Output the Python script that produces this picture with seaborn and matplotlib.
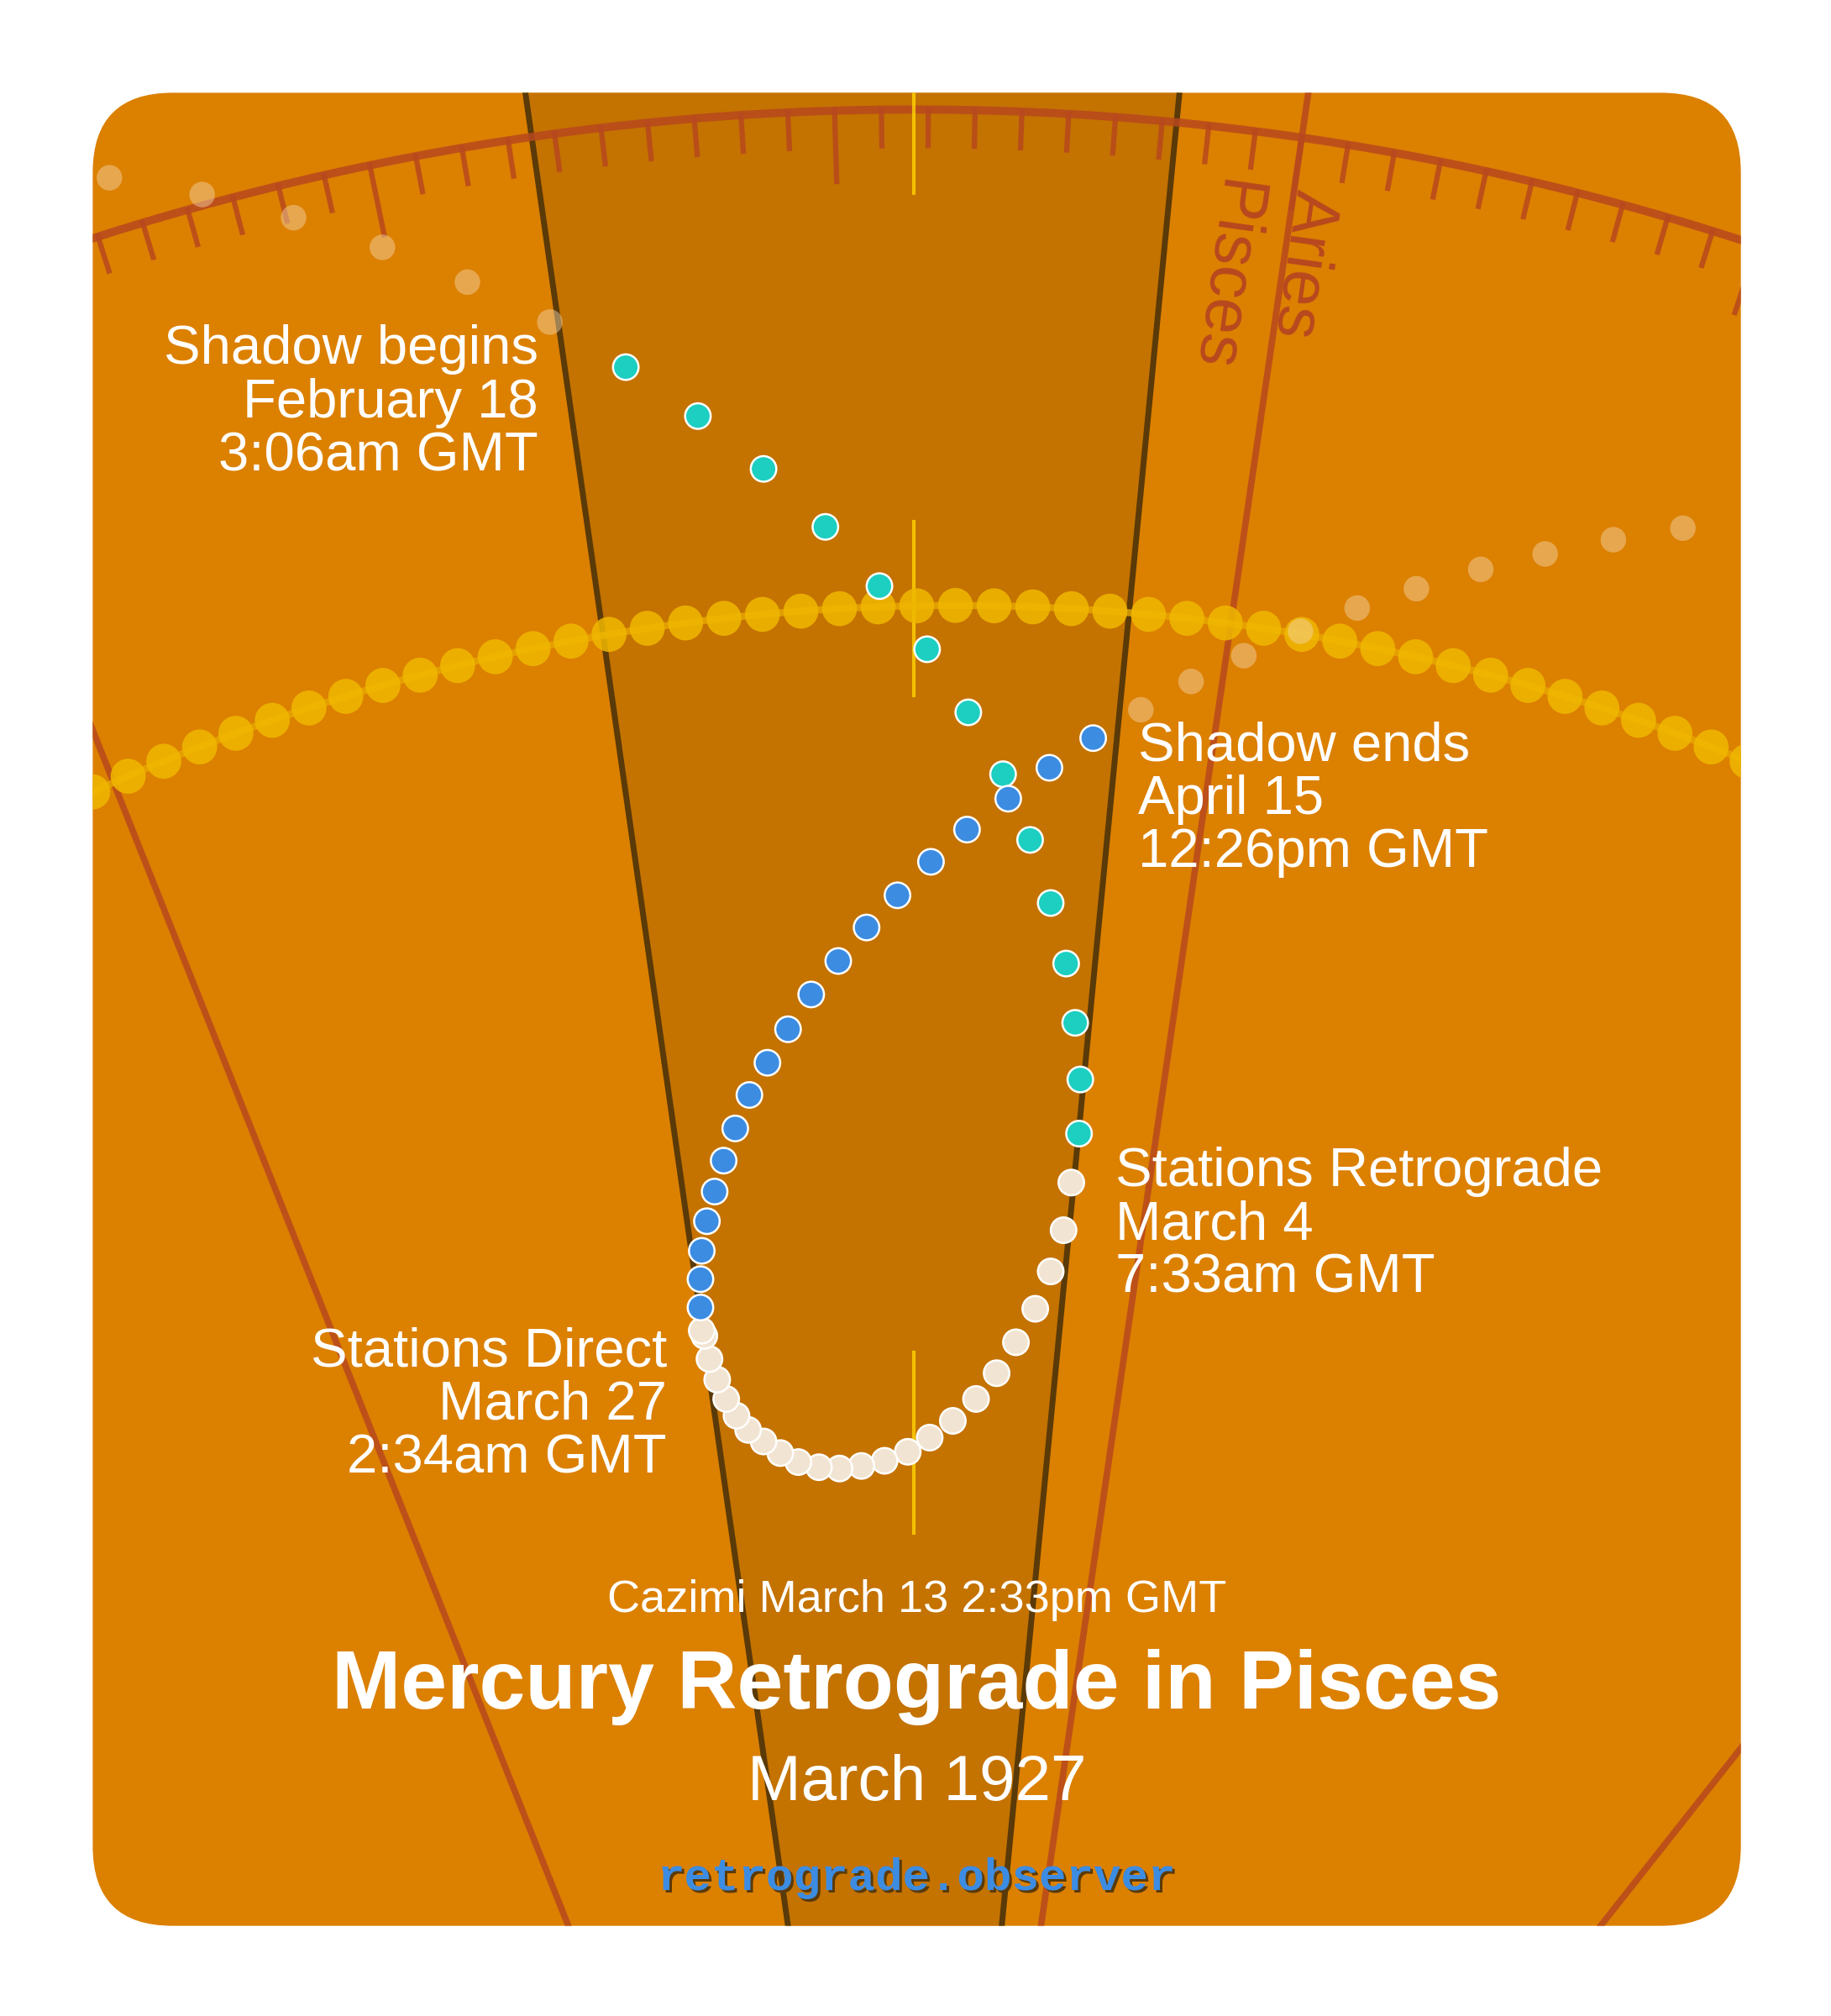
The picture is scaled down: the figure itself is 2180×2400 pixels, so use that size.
import numpy as np
import pandas as pd
import matplotlib
matplotlib.use('Agg')
import matplotlib.pyplot as plt
from matplotlib.patches import FancyBboxPatch, Polygon
import seaborn as sns

# --- data (positions, in reference pixel units) ---
pre_x = [486, 542, 593, 641, 683, 720, 752, 779, 800, 816, 828, 835, 839, 838]
pre_y = [285, 323, 364, 409, 455, 504, 553, 601, 652, 701, 748, 794, 838, 880]
retro_x = [832, 826, 816, 804, 789, 774, 758, 740, 722, 705, 687, 669, 652, 636,
           620, 606, 593, 581, 572, 564, 557, 551, 547, 545]
retro_y = [918, 955, 987, 1016, 1042, 1066, 1086, 1103, 1116, 1127, 1134, 1138, 1140, 1139,
           1135, 1128, 1119, 1110, 1099, 1086, 1071, 1055, 1037, 1033]
post_x = [544, 544, 545, 549, 555, 562, 571, 582, 596, 612, 630, 651, 673, 697,
          723, 751, 783, 815, 849]
post_y = [1015, 993, 971, 948, 925, 901, 876, 850, 825, 799, 772, 746, 720, 695,
          669, 644, 620, 596, 573]
outside_x = [85, 157, 228, 297, 363, 427, 886, 925, 966, 1010, 1054, 1100, 1150, 1200, 1253, 1307]
outside_y = [138, 151, 169, 192, 219, 250, 551, 529, 509, 490, 472, 457, 442, 430, 419, 410]

ecliptic_deg = list(range(-25, 26))          # one dot per degree of ecliptic
sign_bounds = [-21.7, 8.3, 38.3]             # Aquarius|Pisces, Pisces|Aries, Aries|Taurus
shadow_left = [(408, 72), (612, 1495)]
shadow_right = [(916, 72), (778, 1495)]

labels = [
    ("Shadow begins\nFebruary 18\n3:06am GMT", 418, 252, 'right'),
    ("Shadow ends\nApril 15\n12:26pm GMT", 884, 560, 'left'),
    ("Stations Retrograde\nMarch 4\n7:33am GMT", 866, 890, 'left'),
    ("Stations Direct\nMarch 27\n2:34am GMT", 518, 1030, 'right'),
]

CX, CY = 710, 2170
R_RIM = 2085
ECX, ECY, R_ECL = 742, 2093, 1623
ORANGE = '#DC8000'
RED = '#B8481E'


def polar(a, r, cx=CX, cy=CY):
    a = np.radians(a)
    return cx + r * np.sin(a), cy - r * np.cos(a)


fig = plt.figure(figsize=(21.8, 24), dpi=100)
ax = fig.add_axes([0, 0, 1, 1])
ax.set_xlim(0, 1422)
ax.set_ylim(1565, 0)
ax.axis('off')

card = FancyBboxPatch((72, 72), 1280, 1423, boxstyle="round,pad=0,rounding_size=62",
                      facecolor=ORANGE, edgecolor='none', zorder=0)
ax.add_patch(card)

# shadow wedge
wedge = Polygon([shadow_left[0], shadow_right[0], shadow_right[1], shadow_left[1]],
                closed=True, facecolor='#C47200', edgecolor='none', zorder=1)
ax.add_patch(wedge)
for seg in (shadow_left, shadow_right):
    (x0, y0), (x1, y1) = seg
    ax.plot([x0, x1], [y0, y1], color='#5A3A08', lw=5, zorder=2)

# sign boundaries
for a in sign_bounds:
    x0, y0 = polar(a, 0)
    x1, y1 = polar(a, 2500)
    ax.plot([x0, x1], [y0, y1], color=RED, lw=5.5, alpha=0.85, zorder=2)

# zodiac rim + ticks
arc = np.linspace(-30, 30, 400)
ax.plot(*polar(arc, R_RIM), color=RED, lw=7, alpha=0.85, zorder=2)
for k in range(-12, 40):
    a = sign_bounds[1] - k
    ln = 55 if k % 10 == 0 else 28
    x0, y0 = polar(a, R_RIM)
    x1, y1 = polar(a, R_RIM - ln)
    ax.plot([x0, x1], [y0, y1], color=RED, lw=4.5, alpha=0.85, zorder=2)

# sun / center markers
for y0, y1 in [(72, 150), (405, 540), (1050, 1190)]:
    ax.plot([710, 710], [y0, y1], color='#FFD400', lw=3, alpha=0.8, zorder=2)

# ecliptic
ax.plot(*polar(np.linspace(-27, 27, 300), R_ECL, ECX, ECY), color='#E8A800', lw=6, alpha=0.8, zorder=3)
ex, ey = polar(np.array(ecliptic_deg, dtype=float) * 1.06, R_ECL, ECX, ECY)
sns.scatterplot(x=ex, y=ey, s=900, color='#F0B800', alpha=0.85, edgecolor='none', ax=ax, zorder=3)

# path outside shadow
sns.scatterplot(x=outside_x, y=outside_y, s=480, color='#F6D8B0', alpha=0.45,
                edgecolor='none', ax=ax, zorder=4)

# mercury path
path = pd.DataFrame({
    'x': pre_x + retro_x + post_x,
    'y': pre_y + retro_y + post_y,
    'phase': ['pre'] * len(pre_x) + ['retro'] * len(retro_x) + ['post'] * len(post_x),
})
sns.scatterplot(data=path, x='x', y='y', hue='phase',
                palette={'pre': '#1CCFC0', 'retro': '#F2E4D2', 'post': '#3C8CE2'},
                s=480, edgecolor='white', linewidth=1.8, legend=False, ax=ax, zorder=5)

for art in ax.lines + ax.collections + [wedge]:
    art.set_clip_path(card)

font = 'Liberation Sans'
ax.text(1020, 148, 'Aries', rotation=-98, color=RED, fontsize=56, family=font,
        ha='left', va='center', rotation_mode='anchor', zorder=3)
ax.text(960, 140, 'Pisces', rotation=-98, color=RED, fontsize=56, family=font,
        ha='left', va='center', rotation_mode='anchor', zorder=3)

for txt, x, y, ha in labels:
    ax.text(x, y, txt, ha=ha, va='top', color='white', fontsize=47, family=font,
            linespacing=1.07, zorder=6)

ax.text(712, 1242, 'Cazimi March 13 2:33pm GMT', ha='center', va='center', color='white',
        fontsize=39, family=font, zorder=6)
ax.text(712, 1310, 'Mercury Retrograde in Pisces', ha='center', va='center', color='white',
        fontsize=71, fontweight='bold', family=font, zorder=6)
ax.text(712, 1385, 'March 1927', ha='center', va='center', color='white',
        fontsize=55, family=font, zorder=6)
ax.text(714, 1460, 'retrograde.observer', ha='center', va='center', color='#5A3A08',
        fontsize=39, fontweight='bold', family='Liberation Mono', zorder=6)
ax.text(712, 1458, 'retrograde.observer', ha='center', va='center', color='#3C8CE2',
        fontsize=39, fontweight='bold', family='Liberation Mono', zorder=6)

fig.savefig('out.png', dpi=100, facecolor='white')
